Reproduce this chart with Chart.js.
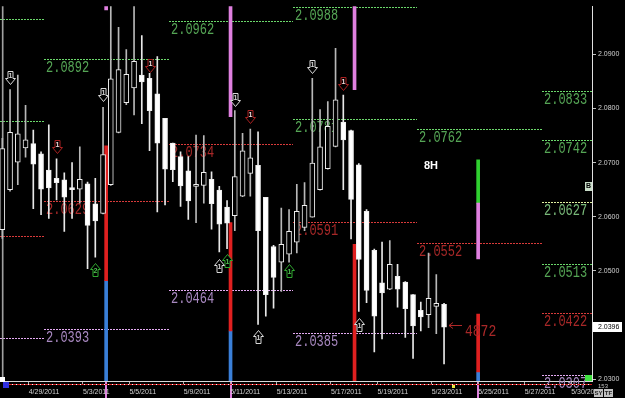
<!DOCTYPE html>
<html>
<head>
<meta charset="utf-8">
<script src="https://cdn.jsdelivr.net/npm/chart.js@4.4.1/dist/chart.umd.min.js"></script>
<style>
html,body{margin:0;padding:0;background:#000;}
#wrap{width:625px;height:398px;}
</style>
</head>
<body>
<div id="wrap"><canvas id="chartCanvas" width="625" height="398"></canvas></div>
<script>

// GBPJPY-ish 8H candles (index 0 = leftmost bar)
const opens = [2.0576,2.0650,2.0701,2.0727,2.0735,2.0716,2.0686,2.0671,2.0668,2.0654,
  2.0651,2.0661,2.0624,2.0606,2.0659,2.0756,2.0811,2.0838,2.0862,2.0856,
  2.0827,2.0782,2.0736,2.0711,2.0685,2.0656,2.0658,2.0669,2.0649,2.0618,
  2.0602,2.0638,2.0680,2.0695,2.0636,2.0545,2.0516,2.0531,2.0553,2.0580,
  2.0599,2.0650,2.0689,2.0730,2.0775,2.0759,2.0696,2.0610,2.0538,2.0478,
  2.0466,2.0490,2.0479,2.0456,2.0427,2.0419,2.0434,2.0438];
const highs = [2.0745,2.0835,2.0862,2.0806,2.0760,2.0720,2.0770,2.0707,2.0681,2.0700,
  2.0729,2.0664,2.0671,2.0802,2.1000,2.0950,2.0909,2.1000,2.0935,2.0865,
  2.0896,2.0782,2.0736,2.0720,2.0711,2.0751,2.0750,2.0683,2.0656,2.0630,
  2.0796,2.0754,2.0762,2.0757,2.0636,2.0547,2.0616,2.0613,2.0660,2.0663,
  2.0856,2.0798,2.0813,2.0911,2.0825,2.0760,2.0698,2.0613,2.0540,2.0553,
  2.0556,2.0512,2.0480,2.0456,2.0442,2.0533,2.0493,2.0440];
const lows = [2.0560,2.0647,2.0659,2.0710,2.0615,2.0604,2.0597,2.0631,2.0573,2.0597,
  2.0625,2.0504,2.0525,2.0605,2.0658,2.0755,2.0807,2.0788,2.0772,2.0722,
  2.0609,2.0622,2.0665,2.0619,2.0595,2.0589,2.0625,2.0577,2.0535,2.0541,
  2.0574,2.0637,2.0638,2.0401,2.0416,2.0431,2.0462,2.0516,2.0533,2.0574,
  2.0599,2.0649,2.0688,2.0729,2.0650,2.0559,2.0425,2.0441,2.0350,2.0374,
  2.0465,2.0433,2.0377,2.0338,2.0389,2.0395,2.0384,2.0328];
const closes = [2.0726,2.0756,2.0753,2.0742,2.0697,2.0651,2.0653,2.0663,2.0636,2.0650,
  2.0669,2.0584,2.0592,2.0715,2.0855,2.0872,2.0863,2.0887,2.0849,2.0796,
  2.0736,2.0688,2.0687,2.0657,2.0629,2.0660,2.0682,2.0624,2.0586,2.0588,
  2.0674,2.0722,2.0709,2.0574,2.0456,2.0488,2.0549,2.0573,2.0610,2.0621,
  2.0699,2.0729,2.0767,2.0816,2.0742,2.0632,2.0521,2.0464,2.0416,2.0459,
  2.0512,2.0466,2.0430,2.0398,2.0415,2.0449,2.0440,2.0396];

const priceTicks = [2.03, 2.05, 2.06, 2.07, 2.08, 2.09];
const lastPrice = 2.0396;
const dateTickPos = [3.4,10.4,16.4,23.4,29.4,35.4,42.4,48.4,55.4,61.4,67.4,73.4];
const dateLabels = ['4/29/2011','5/3/2011','5/5/2011','5/9/2011','5/11/2011','5/13/2011',
  '5/17/2011','5/19/2011','5/23/2011','5/25/2011','5/27/2011','5/30/2011'];

// pivot-style level lines: value, start bar, end bar, colour group, label
const levelValue = [2.0965,2.0892,2.0962,2.0988,2.0776,2.0781,2.0762,2.0833,2.0742,2.0627,2.0513,
  2.0565,2.0629,2.0734,2.0591,2.0552,2.0422,
  2.0375,2.0393,2.0464,2.0385,2.0307];
const levelFrom = [-0.3,5.4,21.5,37.5,-0.3,37.5,53.5,69.6,69.6,69.6,69.6,
  -0.3,5.4,21.5,37.5,53.5,69.6,
  -0.3,5.4,21.5,37.5,69.6];
const levelTo = [5.4,21.5,37.5,53.5,5.4,53.5,69.6,76.2,76.2,76.2,76.2,
  5.4,21.5,37.5,53.5,69.6,76.2,
  5.4,21.5,37.5,53.5,76.2];
const levelKind = ['g','g','g','g','g','g','g','g','g','y','g',
  'r','r','r','r','r','r',
  'v','v','v','v','v'];
const levelText = ['','2.0892','2.0962','2.0988','','2.0781','2.0762','2.0833','2.0742','2.0627','2.0513',
  '','2.0629','2.0734','2.0591','2.0552','2.0422',
  '','2.0393','2.0464','2.0385','2.0307'];

// vertical histogram segments [bar position, from price, to price]
const pinkSegs = [[13.4,2.0982,2.11],[29.45,2.0785,2.11],[45.45,2.0835,2.11],[61.4,2.0522,2.0625]];
const redSegs = [[13.4,2.0482,2.0731],[29.45,2.0389,2.0589],[45.45,2.02,2.0549],[61.4,2.0313,2.0420]];
const blueSegs = [[13.4,2.02,2.0482],[29.45,2.02,2.0389],[61.4,2.02,2.0313]];
const greenSegs = [[61.4,2.0625,2.0705]];
const greySegs = [[0.05,2.02,2.11]];
const stubPos = [13.4, 29.45, 61.4];

// signal arrows: bar, tip price, direction, colour, number
const arrowBar = [1,13,30,40, 7,19,32,44, 12,29,37, 28,33,46];
const arrowTip = [2.0845,2.0813,2.0805,2.0865, 2.0718,2.0867,2.0773,2.0835, 2.0515,2.0531,2.0513, 2.0522,2.0391,2.0413];
const arrowDir = ['d','d','d','d', 'd','d','d','d', 'u','u','u', 'u','u','u'];
const arrowKind = ['w','w','w','w', 'r','r','r','r', 'g','g','g', 'w','w','w'];
const arrowNum = ['1','1','1','1', '1','1','1','1', '2','1','1', '1','1','1'];

const isBull = i => closes[i] > opens[i];

const lineColor = {g:'#6ad86a', y:'#e0f0a0', r:'#d83a3a', v:'#e4aaf2'};
const textColor = {g:'#55a555', y:'#78b878', r:'#a82828', v:'#a888c0'};
const arrowColor = {w:'#d8d8d8', r:'#a82020', g:'#30a830'};
const numColor = {w:'#d0d0d0', r:'#f0d8d8', g:'#50c050'};

function lcdText(ctx, txt, x, y, size, color) {
  ctx.save();
  ctx.fillStyle = color;
  ctx.font = size + 'px "Liberation Mono"';
  ctx.textBaseline = 'top';
  ctx.textAlign = 'left';
  ctx.translate(x, y);
  ctx.scale(1, 1.3);
  ctx.fillText(txt, 0, 0);
  ctx.restore();
}

function drawArrow(ctx, cx, ty, dir, kind, num) {
  const d = dir === 'd' ? -1 : 1;
  const pts = [[-2.5,13],[2.5,13],[2.5,6],[5,6],[0,0],[-5,6],[-2.5,6]];
  ctx.beginPath();
  pts.forEach((p, k) => {
    const px = cx + p[0], py = ty + d * p[1];
    if (k === 0) ctx.moveTo(px, py); else ctx.lineTo(px, py);
  });
  ctx.closePath();
  ctx.fillStyle = '#000';
  ctx.fill();
  ctx.strokeStyle = arrowColor[kind];
  ctx.lineWidth = 1;
  ctx.stroke();
  ctx.fillStyle = numColor[kind];
  ctx.font = 'bold 7px "Liberation Sans"';
  ctx.textAlign = 'center';
  ctx.textBaseline = 'middle';
  ctx.fillText(num, cx, ty + d * 8);
}

const overlay = {
  id: 'overlay',
  beforeDraw(chart) {
    const {ctx, chartArea, scales: {x}} = chart;
    ctx.save();
    ctx.fillStyle = '#000';
    ctx.fillRect(0, 0, chart.width, chart.height);
    ctx.fillStyle = '#e080e0';
    stubPos.forEach(v => {
      const px = Math.round(x.getPixelForValue(v));
      ctx.fillRect(px - 1, chartArea.bottom + 1, 2, chart.height - chartArea.bottom);
    });
    ctx.restore();
  },
  beforeDatasetsDraw(chart) {
    const {ctx, scales: {x, y}} = chart;
    ctx.save();
    levelValue.forEach((v, i) => {
      const x0 = Math.round(x.getPixelForValue(levelFrom[i]));
      const x1 = Math.round(x.getPixelForValue(levelTo[i]));
      const py = Math.round(y.getPixelForValue(v)) + 0.5;
      ctx.strokeStyle = lineColor[levelKind[i]];
      ctx.lineWidth = 1;
      ctx.setLineDash([2, 1]);
      ctx.beginPath();
      ctx.moveTo(x0, py);
      ctx.lineTo(x1, py);
      ctx.stroke();
      if (levelText[i]) lcdText(ctx, levelText[i], x0 + 2, py + 0.5, 12, textColor[levelKind[i]]);
    });
    ctx.restore();
  },
  afterDatasetsDraw(chart) {
    const {ctx, scales: {x, y}} = chart;
    ctx.save();
    arrowBar.forEach((b, i) => {
      const cx = Math.round(x.getPixelForValue(b)) + 0.5;
      const ty = Math.round(y.getPixelForValue(arrowTip[i])) + 0.5;
      drawArrow(ctx, cx, ty, arrowDir[i], arrowKind[i], arrowNum[i]);
    });
    // timeframe tag
    ctx.fillStyle = '#ffffff';
    ctx.font = 'bold 11px "Liberation Sans"';
    ctx.textAlign = 'left';
    ctx.textBaseline = 'middle';
    ctx.fillText('8H', x.getPixelForValue(54.4), y.getPixelForValue(2.0693));
    // pip distance tag next to last bar
    const last = closes.length - 1;
    const ax = Math.round(x.getPixelForValue(last)) + 5;
    const ay = Math.round(y.getPixelForValue(closes[last])) - 1.5;
    ctx.strokeStyle = '#b02828';
    ctx.lineWidth = 1;
    ctx.beginPath();
    ctx.moveTo(ax + 13, ay);
    ctx.lineTo(ax, ay);
    ctx.moveTo(ax + 4, ay - 3);
    ctx.lineTo(ax, ay);
    ctx.lineTo(ax + 4, ay + 3);
    ctx.stroke();
    lcdText(ctx, '4872', ax + 16, ay - 2, 13, '#a82828');
    ctx.restore();
  },
  afterDraw(chart) {
    const {ctx, chartArea, scales: {y}} = chart;
    const r = chartArea.right, b = chartArea.bottom;
    ctx.save();
    // red / white dotted line under the time axis border
    ctx.strokeStyle = '#d02020';
    ctx.lineWidth = 1;
    ctx.beginPath();
    ctx.moveTo(8, b + 3.5);
    ctx.lineTo(r, b + 3.5);
    ctx.stroke();
    ctx.strokeStyle = '#ffffff';
    ctx.setLineDash([1, 3]);
    ctx.beginPath();
    ctx.moveTo(8, b + 3.5);
    ctx.lineTo(r, b + 3.5);
    ctx.stroke();
    ctx.setLineDash([]);
    // corner markers
    ctx.fillStyle = '#ffffff';
    ctx.fillRect(0, b - 4, 5, 5);
    ctx.fillStyle = '#3030e0';
    ctx.fillRect(3, b + 1, 6, 6);
    ctx.fillStyle = '#40e040';
    ctx.fillRect(r - 7, b - 6, 7, 6);
    ctx.fillStyle = '#e8e840';
    ctx.fillRect(452, b + 4, 3, 3);
    // "B" button
    ctx.fillStyle = '#c8dcc8';
    ctx.fillRect(r - 7, 182, 7, 9);
    ctx.fillStyle = '#000';
    ctx.font = 'bold 7px "Liberation Sans"';
    ctx.textAlign = 'center';
    ctx.textBaseline = 'middle';
    ctx.fillText('B', r - 3.5, 186.5);
    // current price box
    const py = Math.round(y.getPixelForValue(lastPrice));
    ctx.fillStyle = '#ffffff';
    ctx.fillRect(r + 1, py - 5, 29, 10);
    ctx.fillStyle = '#000';
    ctx.font = '7px "Liberation Sans"';
    ctx.textAlign = 'left';
    ctx.fillText(lastPrice.toFixed(4), r + 6, py);
    // countdown under axis
    ctx.fillStyle = '#c0c0c0';
    ctx.font = '6px "Liberation Sans"';
    ctx.fillText('153', r + 6, b + 5);
    // SY / TF buttons
    ctx.fillStyle = '#c0c0c0';
    ctx.fillRect(r + 2, b + 8, 9, 8);
    ctx.fillRect(r + 12, b + 8, 9, 8);
    ctx.fillStyle = '#202020';
    ctx.font = 'bold 6px "Liberation Sans"';
    ctx.textAlign = 'center';
    ctx.fillText('SY', r + 6.5, b + 12.5);
    ctx.fillText('TF', r + 16.5, b + 12.5);
    ctx.restore();
  }
};

const bodyData = opens.map((o, i) => ({x: i, y: [o, closes[i]]}));
const wickData = highs.map((h, i) => ({x: i, y: [lows[i], h]}));
const segData = list => list.map(s => ({x: s[0], y: [s[1], s[2]]}));

const chart = new Chart(document.getElementById('chartCanvas'), {
  type: 'bar',
  data: {
    datasets: [
      {
        label: 'body', data: bodyData, order: 0, grouped: false, barThickness: 5,
        backgroundColor: c => isBull(c.dataIndex) ? '#000000' : '#ffffff',
        borderColor: '#eeeeee', borderWidth: 1, borderSkipped: false
      },
      {
        label: 'wick', data: wickData, order: 1, grouped: false, barThickness: 1,
        backgroundColor: c => isBull(c.dataIndex) ? '#b8b8b8' : '#e8e8e8', borderWidth: 0
      },
      { label: 'pink', data: segData(pinkSegs), order: 2, grouped: false, barThickness: 3, backgroundColor: '#e080e0', borderWidth: 0 },
      { label: 'red', data: segData(redSegs), order: 2, grouped: false, barThickness: 3, backgroundColor: '#e02020', borderWidth: 0 },
      { label: 'blue', data: segData(blueSegs), order: 2, grouped: false, barThickness: 3, backgroundColor: '#3a7fd8', borderWidth: 0 },
      { label: 'green', data: segData(greenSegs), order: 2, grouped: false, barThickness: 3, backgroundColor: '#30d030', borderWidth: 0 },
      { label: 'grey', data: segData(greySegs), order: 3, grouped: false, barThickness: 1, backgroundColor: '#a0a0a0', borderWidth: 0 }
    ]
  },
  options: {
    responsive: false,
    animation: false,
    devicePixelRatio: 1,
    layout: { padding: 0 },
    plugins: { legend: { display: false }, tooltip: { enabled: false } },
    scales: {
      x: {
        type: 'linear',
        min: -0.297,
        max: 76.09,
        offset: false,
        grid: { display: true, drawOnChartArea: false, drawTicks: true, tickLength: 3, color: '#b0b0b0', offset: false },
        border: { display: true, color: '#d8d8d8', width: 1 },
        afterBuildTicks: s => { s.ticks = dateTickPos.map(v => ({value: v})); },
        afterFit: s => { s.height = 17; },
        ticks: {
          autoSkip: false, maxRotation: 0, minRotation: 0, align: 'start', padding: 4,
          color: '#d0d0d0', font: { family: 'Liberation Sans', size: 7 },
          callback: (v, i) => dateLabels[i]
        }
      },
      y: {
        position: 'right',
        min: 2.029636,
        max: 2.098909,
        grid: { display: true, drawOnChartArea: false, drawTicks: true, tickLength: 4, color: '#c0c0c0' },
        border: { display: true, color: '#e0e0e0', width: 1 },
        afterBuildTicks: s => { s.ticks = priceTicks.map(v => ({value: v})); },
        afterFit: s => { s.width = 33; },
        ticks: {
          padding: 2, color: '#d0d0d0', font: { family: 'Liberation Sans', size: 7 },
          callback: v => v.toFixed(4)
        }
      }
    }
  },
  plugins: [overlay]
});
</script>
</body>
</html>
